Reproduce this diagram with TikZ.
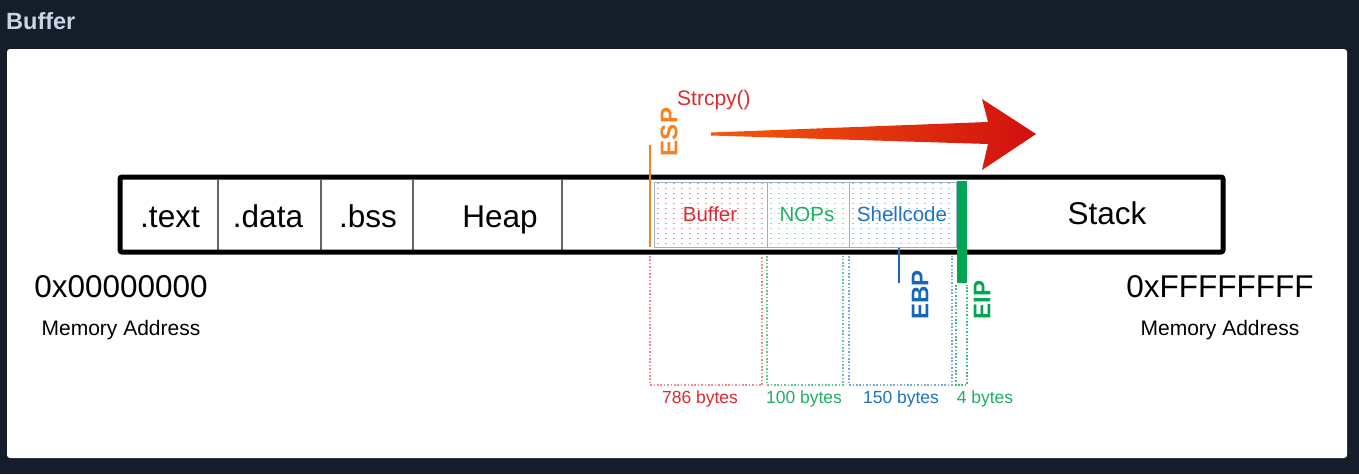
\documentclass[tikz,border=0pt]{standalone}
\usepackage{fontspec}
\setmainfont{Liberation Sans}
\definecolor{bg}{HTML}{151D2B}
\definecolor{titlec}{HTML}{CBD3E4}
\definecolor{cred}{HTML}{DC2A30}
\definecolor{cgreen}{HTML}{1FB062}
\definecolor{cblue}{HTML}{1F72C2}
\definecolor{corange}{HTML}{F5821F}
\definecolor{eipgreen}{HTML}{03A552}
\definecolor{ebpblue}{HTML}{1766B8}
\definecolor{arrowL}{HTML}{F55A0A}
\definecolor{arrowR}{HTML}{D0100F}
\definecolor{subborder}{HTML}{9AAFD0}
\definecolor{divgray}{HTML}{666666}
\tikzset{
  seglabel/.style={font=\fontsize{31.5}{36}\selectfont, anchor=base, inner sep=0},
  sublabel/.style={font=\fontsize{20.5}{24}\selectfont, inner sep=0},
  bytelabel/.style={font=\fontsize{17.5}{20}\selectfont, anchor=base, inner sep=0},
  memlabel/.style={font=\fontsize{21}{24}\selectfont, anchor=base, inner sep=0},
  reglabel/.style={font=\bfseries\fontsize{24}{28}\selectfont, rotate=90, inner sep=0},
  divider/.style={draw=divgray, line width=1.2},
  measure/.style={line width=1.2, dash pattern=on 1.6 off 1.8},
  dotcol/.style={line width=1.3, dash pattern=on 1.3 off 3.7},
}
\begin{document}
\begin{tikzpicture}[x=1pt,y=-1pt]
\useasboundingbox (0,0) rectangle (1359,474);
\fill[bg] (0,0) rectangle (1359,474);
\node[anchor=base west, font=\bfseries\fontsize{23.5}{26}\selectfont, text=titlec, inner sep=0] (title) at (6,29) {Buffer};
\fill[white, rounded corners=3] (7,49) rectangle (1347,458);

% dotted fills of the overflow region
\begin{scope}
  \clip (654,182) rectangle (767,247);
  \foreach \x in {658,666,...,766} \draw[dotcol, cred!45] (\x,183) -- (\x,247);
\end{scope}
\begin{scope}
  \clip (767,182) rectangle (849,247);
  \foreach \x in {771,779,...,849} \draw[dotcol, cgreen!45] (\x,183) -- (\x,247);
\end{scope}
\begin{scope}
  \clip (849,182) rectangle (956,247);
  \foreach \x in {853,861,...,956} \draw[dotcol, cblue!45] (\x,183) -- (\x,247);
\end{scope}
\draw[subborder, line width=1] (654,182) rectangle (956,247);
\draw[subborder, line width=1] (767,182) -- (767,247);
\draw[subborder, line width=1] (849,182) -- (849,247);

% segment dividers
\draw[divider] (218,179.5) -- (218,249.5);
\draw[divider] (321,179.5) -- (321,249.5);
\draw[divider] (413,179.5) -- (413,249.5);
\draw[divider] (562,179.5) -- (562,249.5);

% outer box
\draw[line width=5, rounded corners=2] (120,177) rectangle (1223,252);

% labels in the box
\node[seglabel] (text) at (170,227) {.text};
\node[seglabel] (data) at (268,227) {.data};
\node[seglabel] (bss) at (368,227) {.bss};
\node[seglabel] (heap) at (500,227) {Heap};
\node[seglabel] (stack) at (1107,224) {Stack};
\node[sublabel, text=cred] (buf) at (710,214) {Buffer};
\node[sublabel, text=cgreen] (nops) at (807,214) {NOPs};
\node[sublabel, text=cblue] (shell) at (902,214) {Shellcode};

% measurement brackets
\draw[measure, cred!55] (650,256) -- (650,385) -- (762,385) -- (762,256);
\draw[measure, cgreen!70] (767,256) -- (767,385) -- (843,385) -- (843,256);
\draw[measure, cblue!60] (849,256) -- (849,385) -- (952,385) -- (952,256);
\draw[measure, cgreen!85] (956,285) -- (956,385) -- (967,385) -- (967,285);

\node[bytelabel, text=cred] (b786) at (700,403) {786 bytes};
\node[bytelabel, text=cgreen] (b100) at (804,403) {100 bytes};
\node[bytelabel, text=cblue] (b150) at (901,403) {150 bytes};
\node[bytelabel, text=cgreen] (b4) at (985,403) {4 bytes};

% registers
\coordinate (esptop) at (650,145);
\coordinate (espbot) at (650,247);
\draw[corange, line width=2.2] (esptop) -- (espbot);
\node[reglabel, text=corange] (esp) at (669,132) {ESP};

\coordinate (ebptop) at (899,248);
\coordinate (ebpbot) at (899,283);
\draw[ebpblue, line width=2.5] (ebptop) -- (ebpbot);
\node[reglabel, text=ebpblue] (ebp) at (920,295) {EBP};

\fill[eipgreen] (956.5,181) rectangle (967,283);
\node[reglabel, text=eipgreen] (eip) at (982,300) {EIP};

% strcpy arrow
\node[anchor=base west, font=\fontsize{21}{24}\selectfont, text=cred, inner sep=0] (strcpy) at (677,105) {Strcpy()};
\shade[left color=arrowL, right color=arrowR]
  (711,132.5) -- (988,122) -- (982,99) -- (1036,134) -- (982,170) -- (988,144) -- (711,135.5) -- cycle;

% addresses
\node[seglabel] (lo) at (121,297) {0x00000000};
\node[memlabel] (lomem) at (121,335) {Memory Address};
\node[seglabel] (hi) at (1220,297) {0xFFFFFFFF};
\node[memlabel] (himem) at (1220,335) {Memory Address};
\end{tikzpicture}
\end{document}
